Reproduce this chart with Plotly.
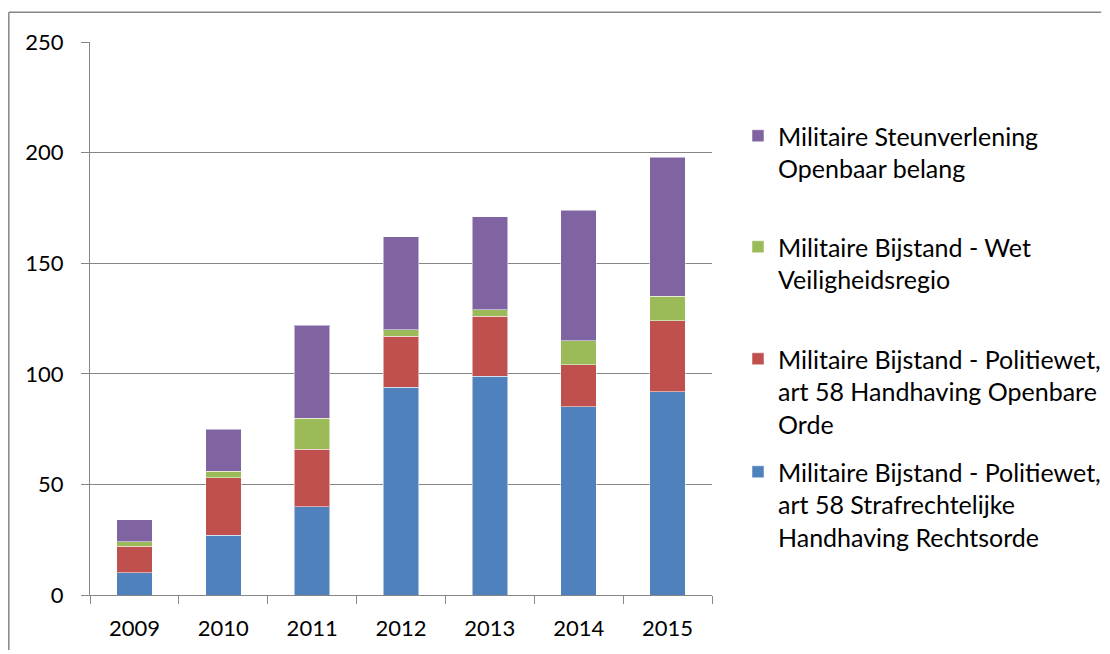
import plotly.graph_objects as go

years = ["2009", "2010", "2011", "2012", "2013", "2014", "2015"]
strafrechtelijk = [10, 27, 40, 94, 99, 85, 92]
openbare_orde = [12, 26, 26, 23, 27, 19, 32]
veiligheidsregio = [2, 3, 14, 3, 3, 11, 11]
steunverlening = [10, 19, 42, 42, 42, 59, 63]

names = [
    "Militaire Bijstand - Politiewet,<br>art 58 Strafrechtelijke<br>Handhaving Rechtsorde",
    "Militaire Bijstand - Politiewet,<br>art 58 Handhaving Openbare<br>Orde",
    "Militaire Bijstand - Wet<br>Veiligheidsregio",
    "Militaire Steunverlening<br>Openbaar belang",
]
series = [strafrechtelijk, openbare_orde, veiligheidsregio, steunverlening]
colors = ["#4F81BD", "#C0504D", "#9BBB59", "#8064A2"]
legend_ids = ["legend4", "legend3", "legend2", "legend"]

# page is offset by the default 8px body margin; keep within the viewport
W, H = 1094, 642
font = "Lato, 'Open Sans', sans-serif"

fig = go.Figure()
for nm, vals, col, lg in zip(names, series, colors, legend_ids):
    fig.add_trace(go.Bar(
        x=years, y=vals, name=nm, legend=lg,
        marker=dict(color=col, line=dict(color="rgba(255,255,255,0.5)", width=1)),
    ))

legend_tops = {"legend": 105, "legend2": 216, "legend3": 328, "legend4": 441}
legend_x = 730
layout_legends = {}
for lg, top in legend_tops.items():
    layout_legends[lg] = dict(
        xref="container", yref="container",
        x=legend_x / W, y=1 - top / H, xanchor="left", yanchor="top",
        valign="top", font=dict(family=font, size=25, color="#000000"),
        bgcolor="rgba(0,0,0,0)", maxheight=400,
    )

x0p, x1p, y0p, y1p = 82, 704.5, 587, 33.7


def px_x(v):
    return (v - x0p) / (x1p - x0p)


def px_y(v):
    return (y0p - v) / (y0p - y1p)


border = dict(color="#868686", width=1.5)
fig.update_layout(
    width=W, height=H,
    barmode="stack", bargap=0.6,
    paper_bgcolor="white", plot_bgcolor="white",
    margin=dict(l=x0p, r=W - x1p, t=y1p, b=H - y0p, autoexpand=False),
    font=dict(family=font, size=22, color="#000000"),
    showlegend=True,
    xaxis=dict(
        showline=True, linecolor="#868686", linewidth=1.3,
        ticks="outside", tickson="boundaries", ticklen=8, tickcolor="#868686", tickwidth=1.3,
        showgrid=False, tickfont=dict(size=22), ticklabelstandoff=13,
    ),
    yaxis=dict(
        range=[0, 250], dtick=50, tick0=0,
        showline=True, linecolor="#868686", linewidth=1.3,
        ticks="outside", ticklen=8, tickcolor="#868686", tickwidth=1.3,
        showgrid=True, gridcolor="#868686", gridwidth=1.3,
        zeroline=False, tickfont=dict(size=22), ticklabelstandoff=13,
    ),
    shapes=[
        dict(type="line", xref="paper", yref="paper",
             x0=px_x(0.75), x1=px_x(0.75), y0=px_y(H), y1=px_y(4), line=border),
        dict(type="line", xref="paper", yref="paper",
             x0=px_x(0.75), x1=px_x(W), y0=px_y(4), y1=px_y(4), line=border),
    ],
    **layout_legends,
)

fig.write_html("out.html")
